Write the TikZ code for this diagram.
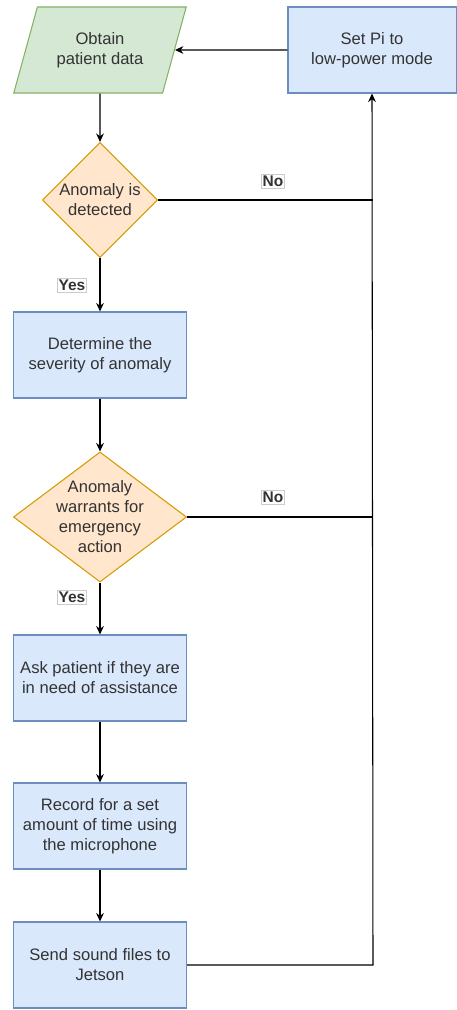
\documentclass[tikz,border=0pt]{standalone}
\usepackage{fontspec}
\setmainfont{Liberation Sans}
\usetikzlibrary{shapes.geometric,arrows.meta}
\definecolor{greenfill}{HTML}{D5E8D4}
\definecolor{greenline}{HTML}{82B366}
\definecolor{orangefill}{HTML}{FFE6CC}
\definecolor{orangeline}{HTML}{D79B00}
\definecolor{bluefill}{HTML}{DAE8FC}
\definecolor{blueline}{HTML}{6C8EBF}
\definecolor{textgray}{HTML}{333333}
\begin{document}
\begin{tikzpicture}[x=0.025cm, y=-0.025cm,
    every node/.style={text=textgray, font=\fontsize{11.8}{14.2}\selectfont},
    process/.style={rectangle, draw=blueline, fill=bluefill, line width=0.75pt,
      inner xsep=1pt, minimum width=4.325cm, minimum height=2.15cm, align=center},
    inputbox/.style={trapezium, trapezium left angle=68, trapezium right angle=112,
      trapezium stretches=true, draw=greenline, fill=greenfill, line width=0.75pt,
      minimum width=4.325cm, minimum height=2.15cm, align=center},
    decision/.style={diamond, draw=orangeline, fill=orangefill, line width=0.75pt,
      inner sep=-5pt, align=center},
    answer/.style={draw=gray!40, fill=white, inner sep=1pt,
      font=\bfseries\fontsize{11}{12}\selectfont},
    >={Stealth[length=6pt,width=5.5pt]}]
  \useasboundingbox (0,0) rectangle (456,1010);
  \node[inputbox] (obtain) at (100,50) {Obtain\\patient data};
  \node[process, minimum width=4.2cm] (lowpower) at (372,50) {Set Pi to\\low-power mode};
  \node[decision, minimum width=2.875cm, minimum height=2.875cm] (detected) at (100,200) {Anomaly is\\detected};
  \node[process] (severity) at (100,355) {Determine the\\severity of anomaly};
  \node[decision, aspect=1.33, minimum width=4.325cm, minimum height=3.25cm] (warrants) at (100,517)
    {Anomaly\\warrants for\\emergency\\action};
  \node[process] (askpatient) at (100,678) {Ask patient if they are\\in need of assistance};
  \node[process] (record) at (100,826) {Record for a set\\amount of time using\\the microphone};
  \node[process] (sendfiles) at (100,965) {Send sound files to\\Jetson};
  \coordinate (joinA) at (373,200);
  \coordinate (joinB) at (373,517);
  \coordinate (joinC) at (373,965);
  % connectors
  \draw[line width=0.75pt, ->] (lowpower) -- (obtain);
  \draw[line width=0.75pt, ->] (obtain) -- (detected);
  \draw[line width=0.75pt, ->] (detected) -- (severity);
  \draw[line width=0.75pt, ->] (severity) -- (warrants);
  \draw[line width=0.75pt, ->] (warrants) -- (askpatient);
  \draw[line width=0.75pt, ->] (askpatient) -- (record);
  \draw[line width=0.75pt, ->] (record) -- (sendfiles);
  \draw[line width=0.75pt] (detected.east) -- (joinA);
  \draw[line width=0.75pt] (warrants.east) -- (joinB);
  \draw[line width=0.75pt, ->] (sendfiles.east) -- (joinC) -- (lowpower.south);
  % yes / no labels
  \node[answer] (noA) at (273,181) {No};
  \node[answer] (yesA) at (72,285) {Yes};
  \node[answer] (noB) at (273,497) {No};
  \node[answer] (yesB) at (72,597) {Yes};
\end{tikzpicture}
\end{document}
